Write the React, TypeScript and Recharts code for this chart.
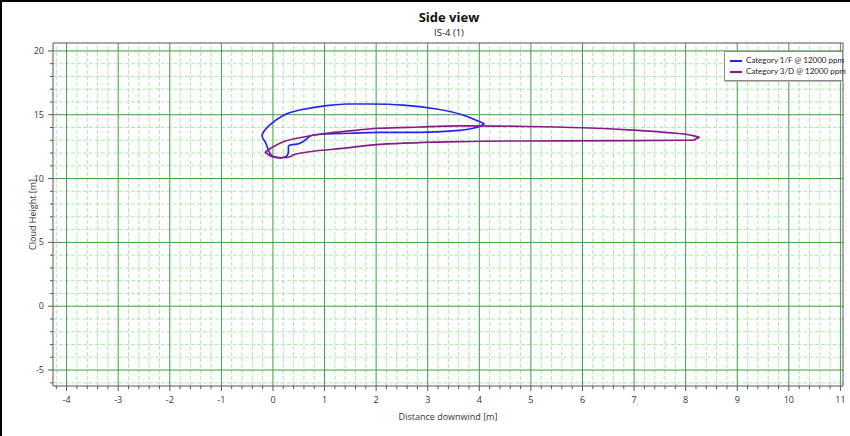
import React from 'react';
import { LineChart, Line, XAxis, YAxis, ReferenceLine, Legend } from 'recharts';

// ---- data ----
const seriesNames = ['Category 1/F @ 12000 ppm', 'Category 3/D @ 12000 ppm'];
const seriesColors = ['#2424f2', '#8a1a8a'];

const cat1F = [
  { x: 1.43, y: 15.84 }, { x: 1.04, y: 15.71 }, { x: 0.52, y: 15.37 }, { x: 0.19, y: 14.93 },
  { x: -0.06, y: 14.2 }, { x: -0.21, y: 13.41 }, { x: -0.155, y: 12.89 }, { x: -0.09, y: 12.24 },
  { x: -0.025, y: 11.79 }, { x: 0.1, y: 11.63 }, { x: 0.23, y: 11.69 }, { x: 0.29, y: 11.9 },
  { x: 0.3, y: 12.37 }, { x: 0.33, y: 12.63 }, { x: 0.52, y: 12.76 }, { x: 0.68, y: 13.2 },
  { x: 0.78, y: 13.41 }, { x: 1.04, y: 13.49 }, { x: 1.49, y: 13.55 }, { x: 2.07, y: 13.62 },
  { x: 2.85, y: 13.62 }, { x: 3.49, y: 13.73 }, { x: 3.88, y: 13.94 }, { x: 4.08, y: 14.25 },
  { x: 4.01, y: 14.45 }, { x: 3.68, y: 14.98 }, { x: 3.17, y: 15.45 }, { x: 2.52, y: 15.76 },
  { x: 1.88, y: 15.84 }, { x: 1.43, y: 15.84 },
];

const cat3D = [
  { x: 8.27, y: 13.23 }, { x: 8.18, y: 13.07 }, { x: 8.02, y: 13.0 }, { x: 6.98, y: 12.97 },
  { x: 5.56, y: 12.96 }, { x: 3.62, y: 12.9 }, { x: 2.07, y: 12.68 }, { x: 1.49, y: 12.42 },
  { x: 0.85, y: 12.18 }, { x: 0.52, y: 11.98 }, { x: 0.39, y: 11.84 }, { x: 0.33, y: 11.71 },
  { x: 0.2, y: 11.63 }, { x: 0.07, y: 11.66 }, { x: -0.06, y: 11.79 }, { x: -0.12, y: 11.98 },
  { x: -0.14, y: 12.1 }, { x: 0.006, y: 12.49 }, { x: 0.2, y: 12.89 }, { x: 0.52, y: 13.2 },
  { x: 1.04, y: 13.55 }, { x: 1.49, y: 13.73 }, { x: 2.07, y: 13.94 }, { x: 2.85, y: 14.04 },
  { x: 3.62, y: 14.12 }, { x: 4.92, y: 14.08 }, { x: 6.01, y: 13.98 }, { x: 6.98, y: 13.8 },
  { x: 7.82, y: 13.55 }, { x: 8.14, y: 13.37 }, { x: 8.27, y: 13.23 },
];

const xMajorTicks = [-4, -3, -2, -1, 0, 1, 2, 3, 4, 5, 6, 7, 8, 9, 10, 11];
const yMajorTicks = [-5, 0, 5, 10, 15, 20];
const xDomain: [number, number] = [-4.264, 11.05];
const yDomain: [number, number] = [-6.25, 20.62];

// minor grid / tick positions (0.2 m steps on x, 1 m steps on y)
const xMinor: number[] = [];
for (let i = -21; i <= 55; i++) {
  if (i % 5 !== 0) xMinor.push(Math.round(i * 20) / 100);
}
const yMinor: number[] = [];
for (let i = -6; i <= 20; i++) {
  if (i % 5 !== 0) yMinor.push(i);
}
const xAllTicks = [...xMinor, ...xMajorTicks].sort((a, b) => a - b);
const yAllTicks = [...yMinor, ...yMajorTicks].sort((a, b) => a - b);

const FONT = '"Open Sans", "Noto Sans", sans-serif';
const LFONT = 'Lato, "Open Sans", sans-serif';
const MAJOR = '#38a038';
const MINOR = '#ace9ac';
const AXIS = '#555';

const isMajorX = (v: number) => xMajorTicks.includes(v);
const isMajorY = (v: number) => yMajorTicks.includes(v);

const XTick = (props: any) => {
  const { x, y, payload } = props;
  const v = payload.value;
  const major = isMajorX(v);
  return (
    <g>
      <line x1={x} x2={x} y1={y} y2={y + (major ? 5 : 3)} stroke={AXIS} strokeWidth={1} />
      {major && (
        <text x={x} y={y + 17} textAnchor="middle" fontSize={9} fontFamily={FONT} fill="#333">
          {v}
        </text>
      )}
    </g>
  );
};

const YTick = (props: any) => {
  const { x, y, payload } = props;
  const v = payload.value;
  const major = isMajorY(v);
  return (
    <g>
      <line x1={x - (major ? 5 : 3)} x2={x} y1={y} y2={y} stroke={AXIS} strokeWidth={1} />
      {major && (
        <text x={x - 9} y={y + 3} textAnchor="end" fontSize={9} fontFamily={FONT} fill="#333">
          {v}
        </text>
      )}
    </g>
  );
};

const LegendBox = () => (
  <div
    style={{
      boxSizing: 'border-box',
      width: 119,
      border: '1px solid #8a8a8a',
      background: '#fff',
      padding: '3px 2px 3px 5px',
      fontFamily: LFONT,
      fontSize: 8,
      color: '#222',
      lineHeight: '11px',
      boxShadow: '1px 1px 0 #bbb',
    }}
  >
    {seriesNames.map((n, i) => (
      <div key={n} style={{ display: 'flex', alignItems: 'center', whiteSpace: 'nowrap' }}>
        <span style={{ flex: '0 0 12px', width: 12, height: 2, background: seriesColors[i], marginRight: 4 }} />
        <span>{n}</span>
      </div>
    ))}
  </div>
);

export default function App() {
  return (
    <div style={{ position: 'absolute', left: 0, top: 0, width: 850, height: 436, background: '#fff', overflow: 'hidden' }}>
      <div style={{ position: 'absolute', left: 0, top: 8, width: 898, textAlign: 'center', fontFamily: FONT, fontWeight: 700, fontSize: 13, color: '#111' }}>
        Side view
      </div>
      <div style={{ position: 'absolute', left: 0, top: 26, width: 898, textAlign: 'center', fontFamily: FONT, fontSize: 9.5, color: '#222' }}>
        IS-4 (1)
      </div>
      <div style={{ position: 'absolute', left: 0, top: 0 }}>
        <LineChart width={850} height={436} margin={{ top: 43, right: 7, bottom: 10, left: 13 }}>
          <XAxis
            type="number"
            dataKey="x"
            domain={xDomain}
            allowDataOverflow
            ticks={xAllTicks}
            interval={0}
            tick={<XTick />}
            tickLine={false}
            tickSize={0}
            tickMargin={0}
            height={40}
            stroke={AXIS}
            label={{ value: 'Distance downwind [m]', position: 'insideBottom', offset: 6, fontSize: 9, fontFamily: FONT, fill: '#333' }}
          />
          <YAxis
            type="number"
            domain={yDomain}
            allowDataOverflow
            ticks={yAllTicks}
            interval={0}
            tick={<YTick />}
            tickLine={false}
            tickSize={0}
            tickMargin={0}
            width={40}
            stroke={AXIS}
            label={{ value: 'Cloud Height [m]', angle: -90, position: 'insideLeft', offset: 20, fontSize: 9, fontFamily: FONT, fill: '#333', style: { textAnchor: 'middle' } }}
          />
          {xMinor.map((v) => (
            <ReferenceLine key={'xm' + v} x={v} stroke={MINOR} strokeDasharray="4 2" strokeWidth={1} />
          ))}
          {yMinor.map((v) => (
            <ReferenceLine key={'ym' + v} y={v} stroke={MINOR} strokeDasharray="4 2" strokeWidth={1} />
          ))}
          {xMajorTicks.map((v) => (
            <ReferenceLine key={'xM' + v} x={v} stroke={MAJOR} strokeWidth={1} />
          ))}
          {yMajorTicks.map((v) => (
            <ReferenceLine key={'yM' + v} y={v} stroke={MAJOR} strokeWidth={1} />
          ))}
          <ReferenceLine y={yDomain[1]} stroke={AXIS} strokeWidth={1} />
          <ReferenceLine x={xDomain[1]} stroke={AXIS} strokeWidth={1} />
          <Line data={cat1F} dataKey="y" name={seriesNames[0]} type="natural" stroke={seriesColors[0]} strokeWidth={1.7} dot={false} isAnimationActive={false} />
          <Line data={cat3D} dataKey="y" name={seriesNames[1]} type="natural" stroke={seriesColors[1]} strokeWidth={1.7} dot={false} isAnimationActive={false} />
          <Legend
            layout="horizontal"
            align="center"
            verticalAlign="middle"
            content={<LegendBox />}
            wrapperStyle={{ left: 724, top: 51, width: 119, height: 'auto' }}
          />
        </LineChart>
      </div>
      <div style={{ position: 'absolute', left: 0, top: 0, width: 850, height: 2, background: '#000' }} />
      <div style={{ position: 'absolute', left: 0, top: 0, width: 2, height: 436, background: '#000' }} />
    </div>
  );
}
